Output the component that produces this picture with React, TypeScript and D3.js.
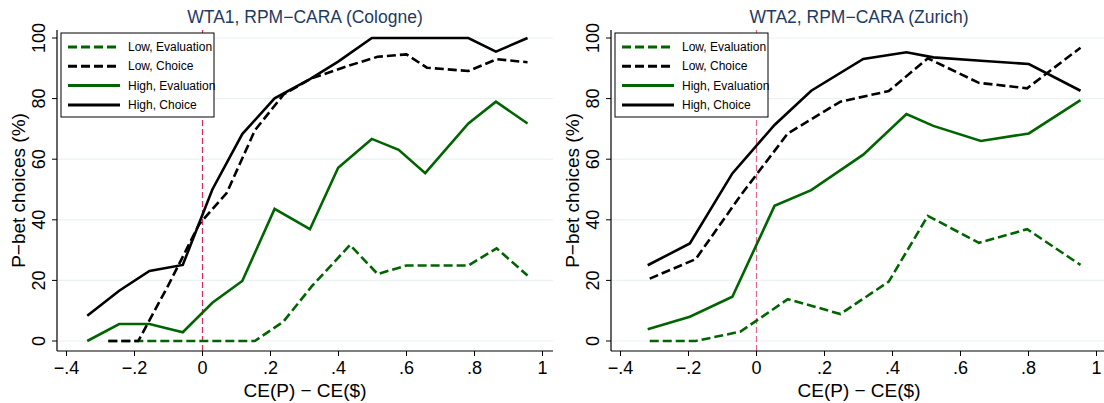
import * as d3 from "d3";
import React from "react";

// Cologne (WTA1)
const cologneHighX = [-0.339, -0.245, -0.156, -0.058, 0.029, 0.117, 0.212, 0.316, 0.399, 0.498, 0.577, 0.655, 0.782, 0.863, 0.956];
const cologneHighChoice = [8.3, 16.6, 23.1, 25.1, 50, 68.3, 80.1, 86.4, 92.2, 100, 100, 100, 100, 95.5, 100];
const cologneHighEval = [0, 5.6, 5.6, 2.9, 12.6, 19.8, 43.6, 36.9, 57.2, 66.7, 63.1, 55.4, 71.8, 79, 71.8];
const cologneLowX = [-0.277, -0.189, -0.1, -0.01, 0.071, 0.154, 0.238, 0.321, 0.434, 0.515, 0.6, 0.66, 0.782, 0.865, 0.956];
const cologneLowChoice = [0, 0, 18.5, 38.5, 48.8, 69.5, 81.3, 86.7, 91, 93.8, 94.6, 90.2, 89.1, 93, 92];
const cologneLowEval = [0, 0, 0, 0, 0, 0, 6.4, 18, 31.7, 22.1, 24.9, 24.9, 24.9, 30.6, 21.6];

// Zurich (WTA2)
const zurichHighX = [-0.32, -0.196, -0.071, 0.053, 0.161, 0.314, 0.441, 0.52, 0.66, 0.801, 0.953];
const zurichHighChoice = [25, 32.2, 55.3, 71.3, 82.6, 93.1, 95.3, 93.6, 92.5, 91.4, 82.6];
const zurichHighEval = [3.9, 8, 14.6, 44.6, 49.8, 61.5, 74.9, 71, 66, 68.5, 79.5];
const zurichLowX = [-0.314, -0.179, -0.047, 0.092, 0.247, 0.389, 0.504, 0.654, 0.796, 0.953];
const zurichLowChoice = [20.6, 27, 48, 68.5, 79, 82.5, 93.3, 85.2, 83.4, 96.8];
const zurichLowEval = [0, 0, 3.1, 13.8, 8.9, 19.6, 41.3, 32.4, 36.9, 25.1];

const xTicks = [-0.4, -0.2, 0, 0.2, 0.4, 0.6, 0.8, 1];
const yTicks = [0, 20, 40, 60, 80, 100];
const seriesNames = ["Low, Evaluation", "Low, Choice", "High, Evaluation", "High, Choice"];

const GREEN = "#006400";
const BLACK = "#000000";
const FONT = "Liberation Sans, Arial, Helvetica, sans-serif";

const fmtTick = (v: number) => {
  if (v === 0) return "0";
  if (v === 1) return "1";
  return d3.format(".1f")(v).replace("0.", ".").replace("-", "\u2212");
};

interface PanelProps {
  left: number;
  title: string;
  lineColor: string;
  lowX: number[];
  lowEval: number[];
  lowChoice: number[];
  highX: number[];
  highEval: number[];
  highChoice: number[];
}

const Panel: React.FC<PanelProps> = ({ left, title, lineColor, lowX, lowEval, lowChoice, highX, highEval, highChoice }) => {
  const plotL = left + 57;
  const plotR = left + 553;
  const plotT = 30;
  const plotB = 351;

  const x = d3.scaleLinear().domain([0, 1]).range([left + 202.5, left + 542.5]);
  const y = d3.scaleLinear().domain([0, 100]).range([341, 38]);

  const line = d3
    .line<[number, number]>()
    .x((d) => x(d[0]))
    .y((d) => y(d[1]));

  const series = [
    { xs: lowX, ys: lowEval, color: GREEN, dash: "9,4" },
    { xs: lowX, ys: lowChoice, color: BLACK, dash: "9,4" },
    { xs: highX, ys: highEval, color: GREEN, dash: undefined },
    { xs: highX, ys: highChoice, color: BLACK, dash: undefined },
  ];

  const cx = (plotL + plotR) / 2;
  const legX = plotL + 4;
  const legY = 33;

  return (
    <g>
      <text x={cx} y={23} textAnchor="middle" fontSize={17.5} fill="#1f3a5f" fontFamily={FONT}>
        {title}
      </text>
      {yTicks.map((t) => (
        <line key={t} x1={plotL} x2={plotR} y1={y(t)} y2={y(t)} stroke="#eaf2f3" strokeWidth={1.2} />
      ))}
      <line x1={x(0)} x2={x(0)} y1={plotT} y2={plotB} stroke={lineColor} strokeWidth={1.2} strokeDasharray="6,3" />
      {series.map((s, i) => (
        <path
          key={i}
          d={line(s.xs.map((v, j) => [v, s.ys[j]] as [number, number])) || ""}
          fill="none"
          stroke={s.color}
          strokeWidth={2.6}
          strokeDasharray={s.dash}
          strokeLinejoin="miter"
        />
      ))}
      {/* axes */}
      <line x1={plotL} x2={plotL} y1={plotT} y2={plotB} stroke="#000" strokeWidth={1.2} />
      <line x1={plotL} x2={plotR} y1={plotB} y2={plotB} stroke="#000" strokeWidth={1.2} />
      {yTicks.map((t) => (
        <g key={t}>
          <line x1={plotL - 5} x2={plotL} y1={y(t)} y2={y(t)} stroke="#000" strokeWidth={1} />
          <text
            transform={`translate(${plotL - 12},${y(t)}) rotate(-90)`}
            textAnchor="middle"
            fontSize={18}
            fontFamily={FONT}
            fill="#000"
          >
            {t}
          </text>
        </g>
      ))}
      {xTicks.map((t) => (
        <g key={t}>
          <line x1={x(t)} x2={x(t)} y1={plotB} y2={plotB + 5} stroke="#000" strokeWidth={1} />
          <text x={x(t)} y={plotB + 23} textAnchor="middle" fontSize={18} fontFamily={FONT} fill="#000">
            {fmtTick(t)}
          </text>
        </g>
      ))}
      <text x={cx} y={397} textAnchor="middle" fontSize={19} fontFamily={FONT} fill="#000">
        CE(P) − CE($)
      </text>
      <text
        transform={`translate(${left + 25},${(plotT + plotB) / 2}) rotate(-90)`}
        textAnchor="middle"
        fontSize={19}
        fontFamily={FONT}
        fill="#000"
      >
        P−bet choices (%)
      </text>
      {/* legend */}
      <rect x={legX} y={legY} width={153} height={84} fill="#fff" stroke="#000" strokeWidth={1} />
      {series.map((s, i) => {
        const ly = legY + 14 + i * 19.3;
        return (
          <g key={i}>
            <line x1={legX + 7} x2={legX + 59} y1={ly} y2={ly} stroke={s.color} strokeWidth={3} strokeDasharray={s.dash} />
            <text x={legX + 67} y={ly + 4} fontSize={12} fontFamily={FONT} fill="#000">
              {seriesNames[i]}
            </text>
          </g>
        );
      })}
    </g>
  );
};

export default function App() {
  return (
    <svg width={1104} height={403} style={{ position: "absolute", left: 0, top: 0, background: "#fff" }}>
      <rect width={1104} height={403} fill="#fff" />
      <Panel
        left={0}
        title="WTA1, RPM−CARA (Cologne)"
        lineColor="#d6285a"
        lowX={cologneLowX}
        lowEval={cologneLowEval}
        lowChoice={cologneLowChoice}
        highX={cologneHighX}
        highEval={cologneHighEval}
        highChoice={cologneHighChoice}
      />
      <Panel
        left={554}
        title="WTA2, RPM−CARA (Zurich)"
        lineColor="#e0668a"
        lowX={zurichLowX}
        lowEval={zurichLowEval}
        lowChoice={zurichLowChoice}
        highX={zurichHighX}
        highEval={zurichHighEval}
        highChoice={zurichHighChoice}
      />
    </svg>
  );
}
